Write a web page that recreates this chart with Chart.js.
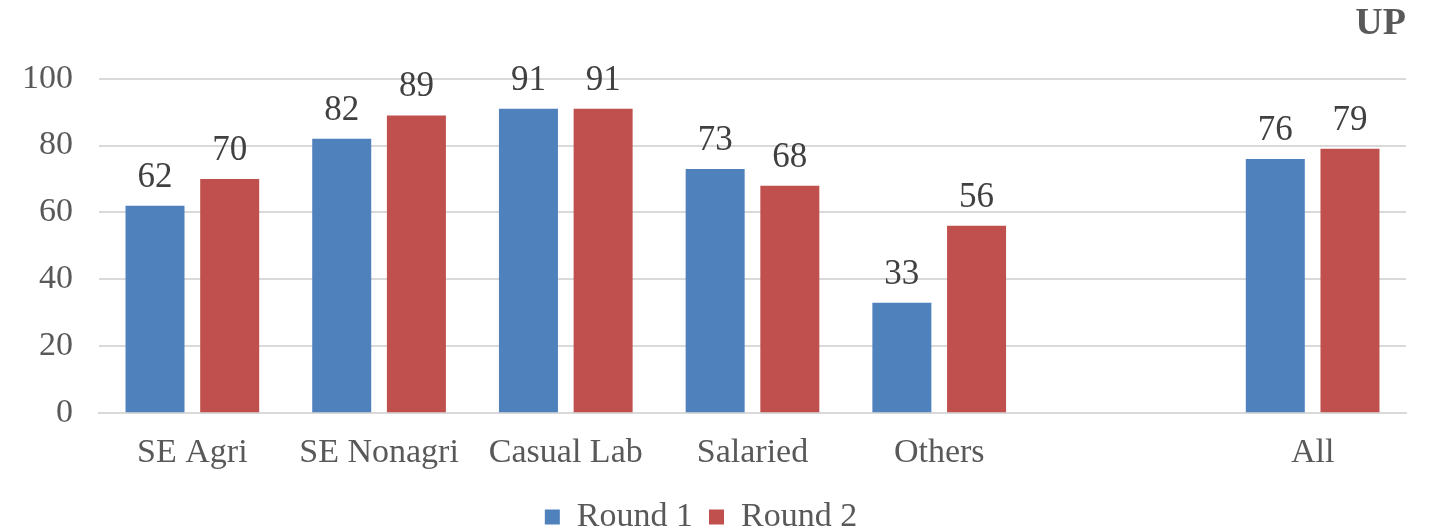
<!DOCTYPE html>
<html>
<head>
<meta charset="utf-8">
<script src="https://cdn.jsdelivr.net/npm/chart.js@4/dist/chart.umd.min.js"></script>
<style>
  html, body { margin: 0; padding: 0; background: #fff; }
  .chart-wrapper { width: 1430px; height: 529px; }
</style>
</head>
<body>
<div class="chart-wrapper">
  <canvas id="chart"></canvas>
</div>
<script>
const categories = ["SE Agri", "SE Nonagri", "Casual Lab", "Salaried", "Others", "", "All"];
const round1 = [62, 82, 91, 73, 33, null, 76];
const round2 = [70, 89, 91, 68, 56, null, 79];
const yTicks = [0, 20, 40, 60, 80, 100];

const FONT = "'Liberation Serif', 'Times New Roman', serif";

// value labels above each bar
const barLabels = {
  id: "barLabels",
  afterDatasetsDraw(chart) {
    const ctx = chart.ctx;
    ctx.save();
    ctx.font = "35px " + FONT;
    ctx.fillStyle = "#404040";
    ctx.textAlign = "center";
    ctx.textBaseline = "alphabetic";
    chart.data.datasets.forEach((ds, i) => {
      chart.getDatasetMeta(i).data.forEach((bar, j) => {
        if (ds.data[j] == null) return;
        ctx.fillText(String(ds.data[j]), bar.x, bar.y - 19);
      });
    });
    ctx.restore();
  }
};

new Chart(document.getElementById("chart"), {
  type: "bar",
  data: {
    labels: categories,
    datasets: [
      { label: "Round 1", data: round1, backgroundColor: "#4f81bd" },
      { label: "Round 2", data: round2, backgroundColor: "#c0504d" }
    ]
  },
  options: {
    responsive: true,
    maintainAspectRatio: false,
    animation: false,
    layout: { padding: { left: -4, right: 24, top: 0, bottom: -15 } },
    datasets: { bar: { categoryPercentage: 0.8, barPercentage: 0.79 } },
    plugins: {
      title: {
        display: true,
        text: "UP",
        align: "end",
        color: "#595959",
        font: { family: FONT, size: 38, weight: "bold" },
        padding: { top: 1, bottom: 32 }
      },
      legend: {
        position: "bottom",
        labels: {
          color: "#595959",
          font: { family: FONT, size: 34 },
          boxWidth: 15,
          boxHeight: 15,
          padding: 16
        }
      },
      tooltip: { enabled: false }
    },
    scales: {
      x: {
        grid: { display: false },
        border: { display: true, color: "#d9d9d9", width: 2 },
        ticks: { color: "#595959", font: { family: FONT, size: 34 }, padding: 11, maxRotation: 0, autoSkip: false }
      },
      y: {
        min: 0,
        max: 100,
        afterBuildTicks: axis => { axis.ticks = yTicks.map(v => ({ value: v })); },
        grid: { color: "#d9d9d9", lineWidth: 2, drawTicks: false },
        border: { display: false },
        ticks: { color: "#595959", font: { family: FONT, size: 34 }, padding: 26 }
      }
    }
  },
  plugins: [barLabels]
});
</script>
</body>
</html>
